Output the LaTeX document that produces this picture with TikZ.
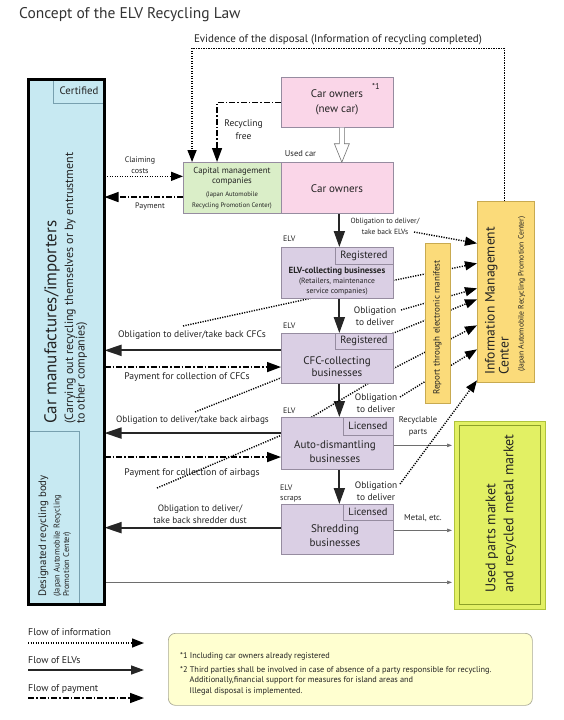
\documentclass[tikz,border=0pt]{standalone}
\usepackage{fontspec}
\setmainfont{PT Sans}
\usetikzlibrary{arrows.meta}
\pgfdeclarelayer{bg}
\pgfsetlayers{bg,main}
\definecolor{cblue}{RGB}{199,233,242}
\definecolor{cin}{RGB}{120,160,175}
\definecolor{cpink}{RGB}{250,214,232}
\definecolor{cgreen}{RGB}{218,238,200}
\definecolor{clav}{RGB}{218,207,228}
\definecolor{cline}{RGB}{150,140,160}
\definecolor{cyel}{RGB}{251,219,122}
\definecolor{cyelb}{RGB}{200,170,80}
\definecolor{cmkt}{RGB}{226,240,100}
\definecolor{cmktb}{RGB}{175,195,60}
\definecolor{cmkti}{RGB}{140,160,40}
\definecolor{cnote}{RGB}{255,255,208}
\definecolor{cnoteb}{RGB}{170,170,150}
\definecolor{ctxt}{RGB}{35,35,35}
\definecolor{cthin}{RGB}{110,110,110}
\newcommand\fsz[2]{\fontsize{#1}{#2}\selectfont}
\tikzset{
  box/.style={draw=cline, line width=0.7pt, inner sep=0pt, anchor=north west},
  lbl/.style={inner sep=0pt, text=ctxt, align=center},
  info/.style={line width=1.4pt, dash pattern=on 1.2pt off 1.3pt, -{Triangle[length=12pt,width=9pt]}},
  elvflow/.style={line width=1.8pt, draw=black!85, -{Triangle[length=16pt,width=11pt]}},
  payflow/.style={line width=1.4pt, dash pattern=on 6pt off 2pt on 1.5pt off 2pt, -{Triangle[length=14pt,width=10pt]}},
  thinflow/.style={line width=0.7pt, draw=cthin, -{Triangle[length=5pt,width=3.5pt]}, shorten >=2pt},
}
\begin{document}
\begin{tikzpicture}[x=1pt,y=-1pt]
\useasboundingbox (0,0) rectangle (563,720);
\begin{pgfonlayer}{bg}
\fill[white] (0,0) rectangle (563,720);
\end{pgfonlayer}

% title
\node[lbl, anchor=west, text=black!80, font=\fsz{15.5}{17}] (title) at (19,15) {Concept of the ELV Recycling Law};

% car manufacturers block
\node[box, draw=none, fill=cblue, outer sep=0pt, minimum width=76pt, minimum height=525pt] (maker) at (28.5,79.5) {};
\node[box, draw=cin, fill=cblue, minimum width=51.5pt, minimum height=23.5pt] (cert) at (53,79.5) {};
\node[box, draw=cin, minimum width=50.5pt, minimum height=173.5pt] (desig) at (28.5,431) {};
\draw[line width=3pt] (maker.south west) rectangle (maker.north east);
\node[lbl, font=\fsz{10.8}{12}] (certT) at (79,91) {Certified};
\node[lbl, rotate=90, anchor=west, font=\fsz{17}{19}] (makerT1) at (52,424) {Car manufactures/importers};
\node[lbl, rotate=90, anchor=west, align=left, font=\fsz{12}{11.5}] (makerT2) at (76,424) {(Carrying out recycling themselves or by entrustment\\to other companies)};
\node[lbl, rotate=90, anchor=west, font=\fsz{10.8}{12}] (desT1) at (43.5,597) {Designated recycling body};
\node[lbl, rotate=90, anchor=west, align=left, font=\fsz{8.4}{9.3}] (desT2) at (62.3,597) {(Japan Automobile Recycling\\Promotion Center)};

% top area
\node[lbl, font=\fsz{11}{12}] (evid) at (338,40) {Evidence of the disposal (Information of recycling completed)};
\coordinate (evtop) at (300,48.3);
\node[box, fill=cpink, minimum width=112pt, minimum height=50pt] (newcar) at (281,77) {};
\node[lbl, font=\fsz{11}{15}] (newcarT) at (337,101.8) {Car owners\\(new car)};
\node[lbl, font=\fsz{8.5}{9}] (star) at (376,86) {*1};
\node[box, fill=cpink, minimum width=112pt, minimum height=51pt] (owners) at (281,162) {};
\node[lbl, font=\fsz{11}{13}] (ownersT) at (337,189) {Car owners};
\node[box, fill=cgreen, minimum width=98pt, minimum height=51pt] (capital) at (183,162) {};
\node[lbl, font=\fsz{8.7}{10.7}] (capT1) at (232,176.3) {Capital management\\companies};
\node[lbl, font=\fsz{6.6}{10.7}] (capT2) at (232,200.3) {(Japan Automobile\\Recycling Promotion Center)};
\node[lbl, font=\fsz{8.5}{9}] (usedcar) at (300.5,153.3) {Used car};
\node[lbl, font=\fsz{9.5}{12.7}] (recfree) at (243.5,129.7) {Recycling\\free};
\node[lbl, font=\fsz{8}{10.7}] (claim) at (140,165) {Claiming\\costs};
\node[lbl, font=\fsz{8}{9}] (pay0) at (150,206) {Payment};
\draw[draw=black!55, fill=white, line width=0.6pt] ([xshift=2pt]newcar.south) -- ++(0,16) -- ++(-5,0) -- ++(7.5,18.5) -- ++(7.5,-18.5) -- ++(-5,0) -- ++(0,-16);

% middle column
\node[box, fill=clav, minimum width=112pt, minimum height=51pt] (elvc) at (281,247) {};
\node[box, fill=clav, minimum width=58pt, minimum height=17pt] (reg1) at (335,247) {};
\node[lbl, font=\fsz{10.5}{12}] (reg1T) at (364,255.5) {Registered};
\node[lbl, font=\fsz{8.9}{10}\bfseries] (elvcT) at (337,271) {ELV-collecting businesses};
\node[lbl, font=\fsz{7.6}{10}] (elvcT2) at (337,287) {(Retailers, maintenance\\service companies)};
\node[lbl, anchor=west, font=\fsz{8}{9}] (elv1) at (283,239) {ELV};
\node[lbl, font=\fsz{7.5}{11.3}] (obl0) at (385,226.3) {Obligation to deliver/\\take back ELVs};
\coordinate (c0) at (414,232);
\node[lbl, font=\fsz{9.4}{12.3}] (obl1) at (375,316) {Obligation\\to deliver};
\coordinate (c1) at (401,310);

\node[box, fill=clav, minimum width=112pt, minimum height=50pt] (cfc) at (281,333) {};
\node[box, fill=clav, minimum width=58pt, minimum height=16pt] (reg2) at (335,333) {};
\node[lbl, font=\fsz{10.5}{12}] (reg2T) at (364,341) {Registered};
\node[lbl, font=\fsz{11}{12.7}] (cfcT) at (337,366.5) {CFC-collecting\\businesses};
\node[lbl, anchor=west, font=\fsz{8}{9}] (elv2) at (283,326) {ELV};
\node[lbl, font=\fsz{9.4}{12.3}] (obl2) at (376,403) {Obligation\\to deliver};
\coordinate (c2) at (400,397);

\node[box, fill=clav, minimum width=112pt, minimum height=52pt] (auto) at (281,417) {};
\node[box, fill=clav, minimum width=50pt, minimum height=18pt] (lic1) at (343,417) {};
\node[lbl, font=\fsz{10.5}{12}] (lic1T) at (368,426) {Licensed};
\node[lbl, font=\fsz{11}{13.3}] (autoT) at (335,451.5) {Auto-dismantling\\businesses};
\node[lbl, anchor=west, font=\fsz{8}{9}] (elv3) at (283,411) {ELV};
\node[lbl, font=\fsz{8.5}{11.7}] (recy) at (418,426) {Recyclable\\parts};
\node[lbl, font=\fsz{9.4}{12.3}] (obl3) at (376,491) {Obligation\\to deliver};
\coordinate (c3) at (400,484);
\node[lbl, anchor=west, align=left, font=\fsz{8}{10}] (elvscr) at (280,493.3) {ELV\\scraps};

\node[box, fill=clav, minimum width=112pt, minimum height=50pt] (shred) at (281,504) {};
\node[box, fill=clav, minimum width=50pt, minimum height=15.5pt] (lic2) at (343,504) {};
\node[lbl, font=\fsz{10.5}{12}] (lic2T) at (368,511.7) {Licensed};
\node[lbl, font=\fsz{11}{14.4}] (shredT) at (335,535.5) {Shredding\\businesses};
\node[lbl, font=\fsz{8.5}{9}] (metal) at (423,518) {Metal, etc.};

% left labels
\node[lbl, font=\fsz{9.5}{10}] (lcfc) at (192,335.5) {Obligation to deliver/take back CFCs};
\node[lbl, font=\fsz{9.6}{10}] (lpcfc) at (187,377) {Payment for collection of CFCs};
\node[lbl, font=\fsz{9.2}{10}] (lair) at (192.5,420) {Obligation to deliver/take back airbags};
\node[lbl, font=\fsz{9.6}{10}] (lpair) at (192,473.3) {Payment for collection of airbags};
\node[lbl, font=\fsz{9.2}{12.3}] (ldust) at (200,514) {Obligation to deliver/\\take back shredder dust};
\coordinate (ca) at (183,326);
\coordinate (cb) at (195,412);
\coordinate (cc) at (157,488);

% right column
\node[box, draw=cyelb, fill=cyel, minimum width=25pt, minimum height=160pt] (report) at (425,243) {};
\node[lbl, rotate=90, font=\fsz{9}{10}] (reportT) at (437.5,327.5) {Report through electronic manifest};
\node[box, draw=cyelb, fill=cyel, minimum width=57pt, minimum height=181pt] (imc) at (477,201) {};
\node[lbl, rotate=90, anchor=west, align=left, font=\fsz{13.6}{14}] (imcT) at (497,375) {Information Management\\Center};
\node[lbl, rotate=90, anchor=west, font=\fsz{7.7}{8}] (imcT2) at (521.7,372) {(Japan Automobile Recycling Promotion Center)};
\node[box, draw=cmktb, fill=cmkt, minimum width=91pt, minimum height=188pt] (market) at (454,421) {};
\node[box, draw=cmkti, line width=0.6pt, minimum width=81pt, minimum height=179.5pt] (mktin) at (459,424.5) {};
\node[lbl, rotate=90, anchor=west, align=left, font=\fsz{14}{18}] (mktT) at (501,593) {Used parts market\\and recycled metal market};

% legend
\node[lbl, anchor=west, font=\fsz{9.8}{10}] (leg1) at (28,632) {Flow of information};
\node[lbl, anchor=west, font=\fsz{9.8}{10}] (leg2) at (28,660) {Flow of ELVs};
\node[lbl, anchor=west, font=\fsz{9.8}{10}] (leg3) at (28,689) {Flow of payment};
\coordinate (l1a) at (28,643); \coordinate (l1b) at (144,643);
\coordinate (l2a) at (28,670); \coordinate (l2b) at (144,670);
\coordinate (l3a) at (28,698); \coordinate (l3b) at (144,698);

% note
\node[box, draw=cnoteb, fill=cnote, rounded corners=7pt, line width=0.7pt, minimum width=364pt, minimum height=72pt] (note) at (168,633) {};
\node[lbl, anchor=west, font=\fsz{8.3}{9}] (n1) at (180,656) {*1 Including car owners already registered};
\node[lbl, anchor=west, font=\fsz{8.3}{9}] (n2) at (180,670) {*2 Third parties shall be involved in case of absence of a party responsible for recycling.};
\node[lbl, anchor=west, font=\fsz{8.3}{9}] (n3) at (189.5,680.5) {Additionally,financial support for measures for island areas and};
\node[lbl, anchor=west, font=\fsz{8.3}{9}] (n4) at (189.5,691) {Illegal disposal is implemented.};

\begin{pgfonlayer}{bg}
% top flows
\draw[info] ([yshift=11.5pt]capital.west -| maker.east) -- ([yshift=11.5pt]capital.west);
\draw[payflow] ([yshift=-9.2pt]capital.west) -- ([yshift=-9.2pt]capital.west -| maker.east);
\draw[payflow] (newcar.west) -| ([xshift=-15.3pt]capital.north);
\draw[info] ([xshift=-1.5pt]imc.north) |- (evtop) -| ([xshift=-40.3pt]capital.north);
% ELV chain
\draw[elvflow] ([xshift=2pt]owners.south) -- ([xshift=2pt]elvc.north);
\draw[elvflow] ([xshift=2pt]elvc.south) -- ([xshift=2pt]cfc.north);
\draw[elvflow] ([xshift=2pt]cfc.south) -- ([xshift=2pt]auto.north);
\draw[elvflow] ([xshift=2pt]auto.south) -- ([xshift=2pt]shred.north);
% left flows
\draw[elvflow, -{Triangle[length=17pt,width=11pt]}] ([yshift=8pt]cfc.west) -- ([yshift=8pt]cfc.west -| maker.east);
\draw[payflow] ([yshift=-8.7pt]cfc.west -| maker.east) -- ([yshift=-8.7pt]cfc.west);
\draw[elvflow, -{Triangle[length=17pt,width=11pt]}] ([yshift=10.3pt]auto.west) -- ([yshift=10.3pt]auto.west -| maker.east);
\draw[payflow] ([yshift=-13.7pt]auto.west -| maker.east) -- ([yshift=-13.7pt]auto.west);
\draw[elvflow, -{Triangle[length=17pt,width=11pt]}] ([yshift=1.7pt]shred.west) -- ([yshift=1.7pt]shred.west -| maker.east);
% to market
\draw[thinflow] ([yshift=-67pt]market.west -| maker.east) -- ([yshift=-67pt]market.west);
\draw[thinflow] ([yshift=-2pt]auto.east) -- ([yshift=-2pt]auto.east -| market.west);
\draw[thinflow] ([yshift=-1pt]shred.east) -- ([yshift=-1pt]shred.east -| market.west);
% information to IMC
\draw[info] (c0) -- ([yshift=48.5pt]imc.west);
\draw[info] (ca) -- ([yshift=-7.5pt]elvc.east) -- ([yshift=28.5pt]imc.west);
\draw[info] (c1) -- ([yshift=3.5pt]imc.west);
\draw[info] (cb) -- (cfc.north east) -- ([yshift=-7.5pt]imc.west);
\draw[info] (cc) -- ([yshift=8pt]auto.west) -- ([yshift=-10pt]cfc.east) -- ([yshift=-33.5pt]imc.west);
\draw[info] (c2) -- ([yshift=-57.5pt]imc.west);
\draw[info] (c3) -- ([yshift=-88.5pt]imc.west);
% legend
\draw[info] (l1a) -- (l1b);
\draw[elvflow, line width=1.4pt, -{Triangle[length=13pt,width=9pt]}] (l2a) -- (l2b);
\draw[payflow] (l3a) -- (l3b);
\end{pgfonlayer}
\end{tikzpicture}
\end{document}
